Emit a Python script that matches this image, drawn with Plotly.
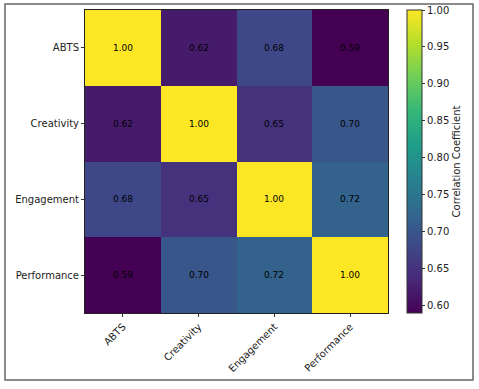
import plotly.graph_objects as go

labels = ["ABTS", "Creativity", "Engagement", "Performance"]
abts = [1.00, 0.62, 0.68, 0.59]
creativity = [0.62, 1.00, 0.65, 0.70]
engagement = [0.68, 0.65, 1.00, 0.72]
performance = [0.59, 0.70, 0.72, 1.00]
cbar_ticks = [0.60, 0.65, 0.70, 0.75, 0.80, 0.85, 0.90, 0.95, 1.00]

z = [abts, creativity, engagement, performance]

W, H = 479, 389
L, R, T, B = 85, 91, 10, 76
pw = W - L - R
ph = H - T - B

fig = go.Figure(go.Heatmap(
    z=z, x=labels, y=labels,
    colorscale="Viridis", zmin=0.59, zmax=1.0,
    texttemplate="%{z:.2f}",
    textfont=dict(size=9, color="black", family="DejaVu Sans"),
    colorbar=dict(
        x=(407 - L) / pw, xanchor="left", y=0.5, yanchor="middle",
        len=ph, lenmode="pixels", thickness=15, xpad=0, ypad=0,
        outlinewidth=1, outlinecolor="#333",
        tickvals=cbar_ticks, ticktext=[f"{v:.2f}" for v in cbar_ticks],
        ticks="outside", ticklen=3, tickcolor="#333",
        tickfont=dict(size=10, color="#222", family="DejaVu Sans"),
        title=dict(text="Correlation Coefficient", side="right",
                   font=dict(size=10, color="#222", family="DejaVu Sans")),
    ),
))

fig.update_xaxes(
    tickangle=-45, ticks="outside", ticklen=3, tickcolor="#333",
    showline=True, linecolor="#222", linewidth=1, mirror=True,
    tickfont=dict(size=10, color="#222", family="DejaVu Sans"),
    showgrid=False, zeroline=False, automargin=False,
)
fig.update_yaxes(
    autorange="reversed", ticks="outside", ticklen=3, tickcolor="#333",
    showline=True, linecolor="#222", linewidth=1, mirror=True,
    tickfont=dict(size=10, color="#222", family="DejaVu Sans"),
    showgrid=False, zeroline=False, automargin=False,
)

fig.add_shape(
    type="rect", xref="paper", yref="paper",
    x0=(5 - L) / pw, x1=(473 - L) / pw,
    y0=(H - B - 380) / ph, y1=(H - B - 4) / ph,
    line=dict(color="#666", width=1.5), layer="above",
)

fig.update_layout(
    width=W, height=H,
    margin=dict(l=L, r=R, t=T, b=B, autoexpand=False),
    paper_bgcolor="white", plot_bgcolor="white",
)

fig.write_html(
    "out.html",
    config={"displayModeBar": False},
    post_script="document.body.style.margin='0';document.body.style.overflow='hidden';",
)
